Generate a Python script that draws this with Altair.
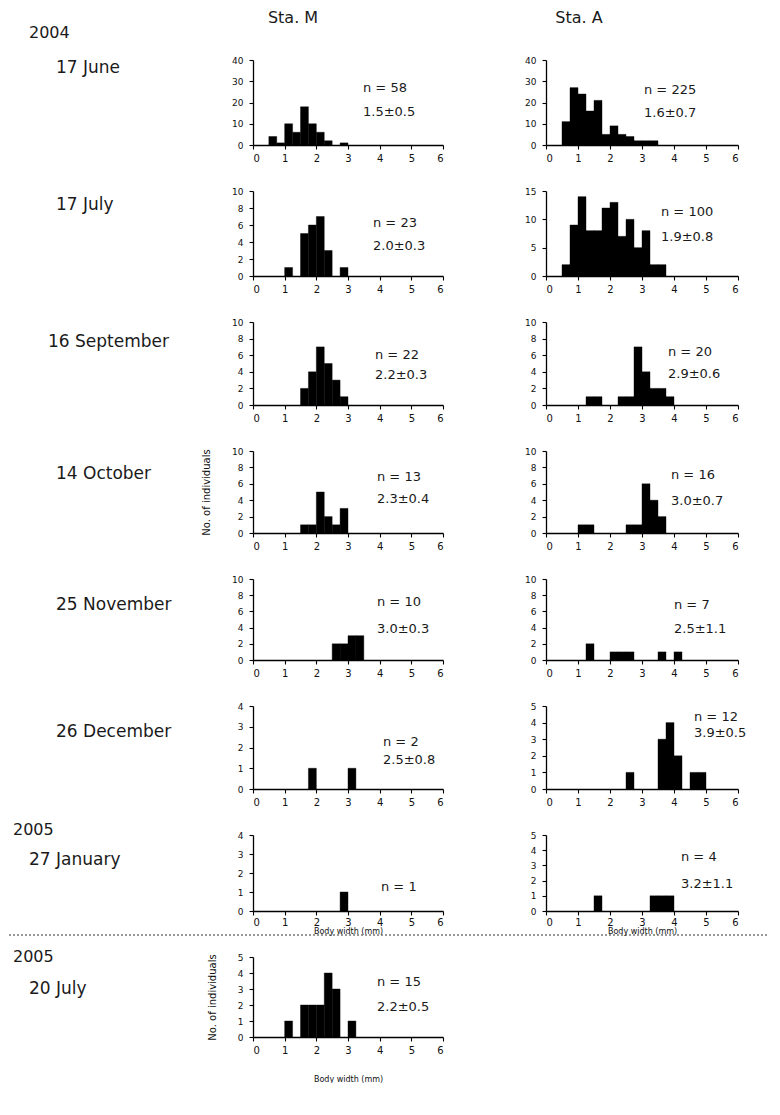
import altair as alt
import pandas as pd

FONT = "DejaVu Sans"
BIN = 0.25  # bin width (mm)

# ---------------- data: bin starts (mm) and counts ----------------
m_jun_start = [0.5, 0.75, 1.0, 1.25, 1.5, 1.75, 2.0, 2.25, 2.75]
m_jun_count = [4, 1, 10, 6, 18, 10, 6, 2, 1]
a_jun_start = [0.5, 0.75, 1.0, 1.25, 1.5, 1.75, 2.0, 2.25, 2.5, 2.75, 3.0, 3.25]
a_jun_count = [11, 27, 24, 16, 21, 5, 9, 5, 4, 2, 2, 2]

m_jul_start = [1.0, 1.5, 1.75, 2.0, 2.25, 2.75]
m_jul_count = [1, 5, 6, 7, 3, 1]
a_jul_start = [0.5, 0.75, 1.0, 1.25, 1.5, 1.75, 2.0, 2.25, 2.5, 2.75, 3.0, 3.25, 3.5]
a_jul_count = [2, 9, 14, 8, 8, 12, 13, 7, 10, 5, 8, 2, 2]

m_sep_start = [1.5, 1.75, 2.0, 2.25, 2.5, 2.75]
m_sep_count = [2, 4, 7, 5, 3, 1]
a_sep_start = [1.25, 1.5, 2.25, 2.5, 2.75, 3.0, 3.25, 3.5, 3.75]
a_sep_count = [1, 1, 1, 1, 7, 4, 2, 2, 1]

m_oct_start = [1.5, 1.75, 2.0, 2.25, 2.5, 2.75]
m_oct_count = [1, 1, 5, 2, 1, 3]
a_oct_start = [1.0, 1.25, 2.5, 2.75, 3.0, 3.25, 3.5]
a_oct_count = [1, 1, 1, 1, 6, 4, 2]

m_nov_start = [2.5, 2.75, 3.0, 3.25]
m_nov_count = [2, 2, 3, 3]
a_nov_start = [1.25, 2.0, 2.25, 2.5, 3.5, 4.0]
a_nov_count = [2, 1, 1, 1, 1, 1]

m_dec_start = [1.75, 3.0]
m_dec_count = [1, 1]
a_dec_start = [2.5, 3.5, 3.75, 4.0, 4.5, 4.75]
a_dec_count = [1, 3, 4, 2, 1, 1]

m_jan_start = [2.75]
m_jan_count = [1]
a_jan_start = [1.5, 3.25, 3.5, 3.75]
a_jan_count = [1, 1, 1, 1]

m_jul05_start = [1.0, 1.5, 1.75, 2.0, 2.25, 2.5, 3.0]
m_jul05_count = [1, 2, 2, 2, 4, 3, 1]

# ---------------- text ----------------
dates = ["17 June", "17 July", "16 September", "14 October",
         "25 November", "26 December", "27 January", "20 July"]
years = ["2004", "2005", "2005"]
stations = ["Sta. M", "Sta. A"]
n_m = ["n = 58", "n = 23", "n = 22", "n = 13", "n = 10", "n = 2", "n = 1", "n = 15"]
mean_m = ["1.5±0.5", "2.0±0.3", "2.2±0.3", "2.3±0.4", "3.0±0.3", "2.5±0.8", "", "2.2±0.5"]
n_a = ["n = 225", "n = 100", "n = 20", "n = 16", "n = 7", "n = 12", "n = 4"]
mean_a = ["1.6±0.7", "1.9±0.8", "2.9±0.6", "3.0±0.7", "2.5±1.1", "3.9±0.5", "3.2±1.1"]
ytitle = "No. of individuals"
xtitle = "Body width (mm)"

# ---------------- layout (pixels) ----------------
W_M, W_A = 190, 192
GAP_MA = 103
ROW_GAP = 46
heights = [85, 85, 83, 82, 81, 83, 76, 80]
ymax_m = [40, 10, 10, 10, 10, 4, 4, 5]
ystep_m = [10, 2, 2, 2, 2, 1, 1, 1]
ymax_a = [40, 15, 10, 10, 10, 5, 5]
ystep_a = [10, 5, 2, 2, 2, 1, 1]
note_m = [(110, 28, 52), (120, 32, 55), (122, 33, 53), (124, 26, 48),
          (124, 23, 50), (130, 36, 54), (128, 52, 0), (124, 25, 50)]
note_a = [(98, 30, 53), (115, 21, 46), (122, 30, 52), (125, 24, 50),
          (128, 26, 50), (148, 11, 27), (135, 22, 49)]
date_pos = [(-197, 8), (-197, 14), (-205, 20), (-197, 23),
            (-197, 26), (-197, 26), (-224, 25), (-224, 32)]
year_pos = {0: (-224, -27), 6: (-240, -5), 7: (-240, 0)}
year_of_row = {0: 0, 6: 1, 7: 2}
xtitle_pad = {6: 0, 7: 20}
xlabel_pad = {6: 2}

m_data = [(m_jun_start, m_jun_count), (m_jul_start, m_jul_count),
          (m_sep_start, m_sep_count), (m_oct_start, m_oct_count),
          (m_nov_start, m_nov_count), (m_dec_start, m_dec_count),
          (m_jan_start, m_jan_count), (m_jul05_start, m_jul05_count)]
a_data = [(a_jun_start, a_jun_count), (a_jul_start, a_jul_count),
          (a_sep_start, a_sep_count), (a_oct_start, a_oct_count),
          (a_nov_start, a_nov_count), (a_dec_start, a_dec_count),
          (a_jan_start, a_jan_count)]


def txt(s, x, y, size=13, align="left"):
    return alt.Chart(pd.DataFrame({"t": [s]})).mark_text(
        align=align, baseline="middle", font=FONT, fontSize=size, color="#1a1a1a"
    ).encode(x=alt.value(x), y=alt.value(y), text="t:N")


def panel(starts, counts, ymax, ystep, width, height, xt_pad, xl_pad, show_ytitle, notes):
    df = pd.DataFrame({"start": starts, "count": counts})
    df["end"] = df["start"] + BIN
    if xt_pad is not None:
        xaxis = alt.Axis(values=list(range(7)), format="d", title=xtitle,
                         titleFontSize=8, titlePadding=xt_pad, labelPadding=xl_pad)
    else:
        xaxis = alt.Axis(values=list(range(7)), format="d", title=None,
                         labelPadding=xl_pad)
    if show_ytitle:
        yaxis = alt.Axis(values=list(range(0, ymax + 1, ystep)), format="d",
                         title=ytitle, titleFontSize=10, titlePadding=20)
    else:
        yaxis = alt.Axis(values=list(range(0, ymax + 1, ystep)), format="d", title=None)
    bars = alt.Chart(df).mark_bar(color="black", stroke="black", strokeWidth=0.4).encode(
        x=alt.X("start:Q", scale=alt.Scale(domain=[0, 6], nice=False), axis=xaxis),
        x2="end:Q",
        y=alt.Y("count:Q", scale=alt.Scale(domain=[0, ymax], nice=False), axis=yaxis),
        y2=alt.datum(0),
    )
    layers = [bars] + notes
    return alt.layer(*layers).properties(width=width, height=height)


cells = []
for i in range(8):
    nx, ny1, ny2 = note_m[i]
    notes = [txt(n_m[i], nx, ny1)]
    if mean_m[i]:
        notes.append(txt(mean_m[i], nx, ny2))
    dx, dy = date_pos[i]
    notes.append(txt(dates[i], dx, dy, size=17))
    if i in year_pos:
        yx, yy = year_pos[i]
        notes.append(txt(years[year_of_row[i]], yx, yy, size=16))
    if i == 0:
        notes.append(txt(stations[0], 40, -42, size=16, align="center"))
    if i == 6:
        notes.append(alt.Chart(pd.DataFrame({"a": [0]})).mark_rule(
            strokeDash=[2, 2], color="#333", strokeWidth=1.2
        ).encode(x=alt.value(-244), x2=alt.value(516), y=alt.value(100)))
    s, c = m_data[i]
    cells.append(panel(s, c, ymax_m[i], ystep_m[i], W_M, heights[i],
                       xtitle_pad.get(i), xlabel_pad.get(i, 4), i in (3, 7), notes))
    if i < 7:
        ax, ay1, ay2 = note_a[i]
        anotes = [txt(n_a[i], ax, ay1), txt(mean_a[i], ax, ay2)]
        if i == 0:
            anotes.append(txt(stations[1], 33, -42, size=16, align="center"))
        s, c = a_data[i]
        cells.append(panel(s, c, ymax_a[i], ystep_a[i], W_A, heights[i],
                           xtitle_pad.get(i) if i == 6 else None,
                           xlabel_pad.get(i, 4), False, anotes))

chart = alt.concat(*cells, columns=2, bounds="flush", align="each",
                   spacing={"row": ROW_GAP, "column": GAP_MA}).properties(
    padding={"left": 0, "top": 2, "right": 0, "bottom": 0}
).configure_view(stroke=None).configure_axis(
    grid=False, domainColor="black", tickColor="black", labelColor="#111111",
    titleColor="#111111", labelFont=FONT, titleFont=FONT, labelFontSize=9,
    tickSize=4, titleFontWeight="normal", domainWidth=1.3, tickWidth=1.1
).configure_axisX(labelFontSize=10).configure_axisY(labelPadding=6)

chart.save("out.html", embed_options={"renderer": "svg", "actions": False})
